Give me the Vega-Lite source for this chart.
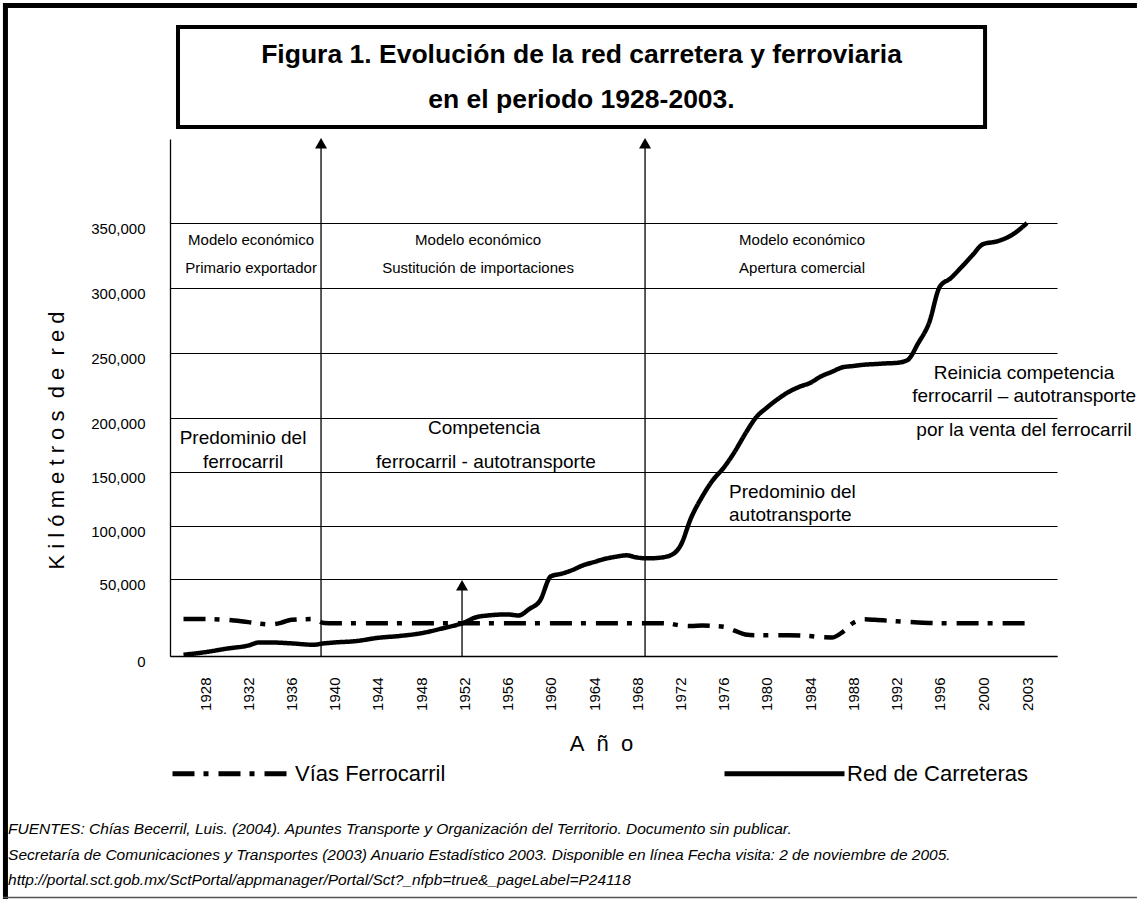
{
  "$schema": "https://vega.github.io/schema/vega-lite/v6.json",
  "width": 887,
  "height": 517,
  "padding": {"left": 0, "top": 0, "right": 0, "bottom": 0},
  "background": "white",
  "config": {"view": {"stroke": null}, "font": "Liberation Sans"},
  "layer": [
    {
      "data": {"values": [{}]},
      "mark": {"type": "rule", "color": "black", "strokeWidth": 5},
      "encoding": {"x": {"datum": 1909.52, "type": "quantitative"}, "y": {"datum": 520237, "type": "quantitative"}, "y2": {"datum": -157792}}
    },
    {
      "data": {"values": [{}]},
      "mark": {"type": "rule", "color": "black", "strokeWidth": 5},
      "encoding": {"x": {"datum": 1909.29, "type": "quantitative"}, "x2": {"datum": 2010.33}, "y": {"datum": 518304, "type": "quantitative"}}
    },
    {
      "data": {"values": [{}]},
      "mark": {"type": "rule", "color": "#555555", "strokeWidth": 1.5},
      "encoding": {"x": {"datum": 1909.29, "type": "quantitative"}, "x2": {"datum": 2010.33}, "y": {"datum": -156818, "type": "quantitative"}}
    },
    {
      "data": {"values": [{}]},
      "mark": {"type": "rect", "fill": "white", "stroke": "black", "strokeWidth": 4},
      "encoding": {"x": {"datum": 1925.49, "type": "quantitative"}, "x2": {"datum": 2000.14}, "y": {"datum": 501667, "type": "quantitative"}, "y2": {"datum": 424286}}
    },
    {
      "data": {"values": [
        {"year": 1962.84, "km": 480000, "label": "Figura 1. Evolución de la red carretera y ferroviaria"},
        {"year": 1962.84, "km": 445178, "label": "en el periodo 1928-2003."}
      ]},
      "mark": {"type": "text", "fontSize": 26.5, "fontWeight": "bold", "font": "Liberation Sans", "color": "black", "align": "center", "baseline": "middle"},
      "encoding": {"x": {"field": "year", "type": "quantitative"}, "y": {"field": "km", "type": "quantitative"}, "text": {"field": "label"}}
    },
    {
      "data": {"values": [
        {"year": 1938.73, "km": 411750},
        {"year": 1951.78, "km": 45974},
        {"year": 1968.72, "km": 411750}
      ]},
      "layer": [
        {
          "mark": {"type": "rule", "color": "black", "strokeWidth": 1.3},
          "encoding": {"x": {"field": "year", "type": "quantitative"}, "y": {"field": "km", "type": "quantitative"}, "y2": {"datum": 0}}
        },
        {
          "mark": {"type": "point", "shape": "triangle-up", "filled": true, "color": "black", "opacity": 1, "size": 144},
          "encoding": {"x": {"field": "year", "type": "quantitative"}, "y": {"field": "km", "type": "quantitative"}}
        }
      ]
    },
    {
      "data": {"values": [
        {"serie": "Red de Carreteras", "year": 1926, "km": 800},
        {"serie": "Red de Carreteras", "year": 1928, "km": 2500},
        {"serie": "Red de Carreteras", "year": 1930, "km": 4800},
        {"serie": "Red de Carreteras", "year": 1932, "km": 6800},
        {"serie": "Red de Carreteras", "year": 1933, "km": 8800},
        {"serie": "Red de Carreteras", "year": 1934, "km": 8800},
        {"serie": "Red de Carreteras", "year": 1936, "km": 8200},
        {"serie": "Red de Carreteras", "year": 1938, "km": 7300},
        {"serie": "Red de Carreteras", "year": 1939, "km": 8200},
        {"serie": "Red de Carreteras", "year": 1940, "km": 8800},
        {"serie": "Red de Carreteras", "year": 1942, "km": 9700},
        {"serie": "Red de Carreteras", "year": 1944, "km": 11800},
        {"serie": "Red de Carreteras", "year": 1946, "km": 13000},
        {"serie": "Red de Carreteras", "year": 1948, "km": 14800},
        {"serie": "Red de Carreteras", "year": 1950, "km": 18000},
        {"serie": "Red de Carreteras", "year": 1952, "km": 21800},
        {"serie": "Red de Carreteras", "year": 1953, "km": 25000},
        {"serie": "Red de Carreteras", "year": 1954, "km": 26200},
        {"serie": "Red de Carreteras", "year": 1956, "km": 27000},
        {"serie": "Red de Carreteras", "year": 1957, "km": 26300},
        {"serie": "Red de Carreteras", "year": 1958, "km": 30500},
        {"serie": "Red de Carreteras", "year": 1959, "km": 36000},
        {"serie": "Red de Carreteras", "year": 1960, "km": 52500},
        {"serie": "Red de Carreteras", "year": 1961, "km": 55000},
        {"serie": "Red de Carreteras", "year": 1962, "km": 58500},
        {"serie": "Red de Carreteras", "year": 1963, "km": 63000},
        {"serie": "Red de Carreteras", "year": 1964, "km": 66000},
        {"serie": "Red de Carreteras", "year": 1965, "km": 69000},
        {"serie": "Red de Carreteras", "year": 1966, "km": 71000},
        {"serie": "Red de Carreteras", "year": 1967, "km": 72300},
        {"serie": "Red de Carreteras", "year": 1968, "km": 70200},
        {"serie": "Red de Carreteras", "year": 1969, "km": 69500},
        {"serie": "Red de Carreteras", "year": 1970, "km": 70000},
        {"serie": "Red de Carreteras", "year": 1971, "km": 72000},
        {"serie": "Red de Carreteras", "year": 1972, "km": 81500},
        {"serie": "Red de Carreteras", "year": 1973, "km": 108000},
        {"serie": "Red de Carreteras", "year": 1974, "km": 127000},
        {"serie": "Red de Carreteras", "year": 1975, "km": 142500},
        {"serie": "Red de Carreteras", "year": 1976, "km": 154000},
        {"serie": "Red de Carreteras", "year": 1977, "km": 168500},
        {"serie": "Red de Carreteras", "year": 1978, "km": 185500},
        {"serie": "Red de Carreteras", "year": 1979, "km": 200500},
        {"serie": "Red de Carreteras", "year": 1980, "km": 208000},
        {"serie": "Red de Carreteras", "year": 1981, "km": 214500},
        {"serie": "Red de Carreteras", "year": 1982, "km": 220000},
        {"serie": "Red de Carreteras", "year": 1983, "km": 224000},
        {"serie": "Red de Carreteras", "year": 1984, "km": 227000},
        {"serie": "Red de Carreteras", "year": 1985, "km": 232000},
        {"serie": "Red de Carreteras", "year": 1986, "km": 235500},
        {"serie": "Red de Carreteras", "year": 1987, "km": 239000},
        {"serie": "Red de Carreteras", "year": 1988, "km": 240000},
        {"serie": "Red de Carreteras", "year": 1989, "km": 241000},
        {"serie": "Red de Carreteras", "year": 1990, "km": 241500},
        {"serie": "Red de Carreteras", "year": 1991, "km": 242000},
        {"serie": "Red de Carreteras", "year": 1992, "km": 242400},
        {"serie": "Red de Carreteras", "year": 1993, "km": 244500},
        {"serie": "Red de Carreteras", "year": 1994, "km": 257500},
        {"serie": "Red de Carreteras", "year": 1995, "km": 273000},
        {"serie": "Red de Carreteras", "year": 1996, "km": 301000},
        {"serie": "Red de Carreteras", "year": 1997, "km": 307500},
        {"serie": "Red de Carreteras", "year": 1998, "km": 316000},
        {"serie": "Red de Carreteras", "year": 1999, "km": 325000},
        {"serie": "Red de Carreteras", "year": 2000, "km": 333700},
        {"serie": "Red de Carreteras", "year": 2001, "km": 336000},
        {"serie": "Red de Carreteras", "year": 2002, "km": 341000},
        {"serie": "Red de Carreteras", "year": 2003, "km": 350000},
        {"serie": "Vías Ferrocarril", "year": 1926, "km": 24000},
        {"serie": "Vías Ferrocarril", "year": 1928, "km": 24000},
        {"serie": "Vías Ferrocarril", "year": 1930, "km": 23500},
        {"serie": "Vías Ferrocarril", "year": 1932, "km": 22000},
        {"serie": "Vías Ferrocarril", "year": 1934, "km": 20500},
        {"serie": "Vías Ferrocarril", "year": 1935, "km": 21500},
        {"serie": "Vías Ferrocarril", "year": 1936, "km": 23500},
        {"serie": "Vías Ferrocarril", "year": 1938, "km": 24000},
        {"serie": "Vías Ferrocarril", "year": 1939, "km": 21500},
        {"serie": "Vías Ferrocarril", "year": 1940, "km": 21300},
        {"serie": "Vías Ferrocarril", "year": 1944, "km": 21300},
        {"serie": "Vías Ferrocarril", "year": 1948, "km": 21300},
        {"serie": "Vías Ferrocarril", "year": 1952, "km": 21300},
        {"serie": "Vías Ferrocarril", "year": 1956, "km": 21300},
        {"serie": "Vías Ferrocarril", "year": 1960, "km": 21300},
        {"serie": "Vías Ferrocarril", "year": 1964, "km": 21300},
        {"serie": "Vías Ferrocarril", "year": 1968, "km": 21300},
        {"serie": "Vías Ferrocarril", "year": 1970, "km": 21300},
        {"serie": "Vías Ferrocarril", "year": 1971, "km": 21000},
        {"serie": "Vías Ferrocarril", "year": 1972, "km": 19800},
        {"serie": "Vías Ferrocarril", "year": 1973, "km": 19500},
        {"serie": "Vías Ferrocarril", "year": 1974, "km": 19800},
        {"serie": "Vías Ferrocarril", "year": 1975, "km": 19500},
        {"serie": "Vías Ferrocarril", "year": 1976, "km": 19000},
        {"serie": "Vías Ferrocarril", "year": 1977, "km": 16500},
        {"serie": "Vías Ferrocarril", "year": 1978, "km": 14000},
        {"serie": "Vías Ferrocarril", "year": 1979, "km": 13500},
        {"serie": "Vías Ferrocarril", "year": 1980, "km": 13500},
        {"serie": "Vías Ferrocarril", "year": 1982, "km": 13500},
        {"serie": "Vías Ferrocarril", "year": 1984, "km": 13000},
        {"serie": "Vías Ferrocarril", "year": 1985, "km": 12200},
        {"serie": "Vías Ferrocarril", "year": 1986, "km": 12000},
        {"serie": "Vías Ferrocarril", "year": 1987, "km": 15500},
        {"serie": "Vías Ferrocarril", "year": 1988, "km": 21500},
        {"serie": "Vías Ferrocarril", "year": 1989, "km": 23800},
        {"serie": "Vías Ferrocarril", "year": 1990, "km": 23500},
        {"serie": "Vías Ferrocarril", "year": 1992, "km": 22500},
        {"serie": "Vías Ferrocarril", "year": 1994, "km": 21800},
        {"serie": "Vías Ferrocarril", "year": 1996, "km": 21300},
        {"serie": "Vías Ferrocarril", "year": 2000, "km": 21200},
        {"serie": "Vías Ferrocarril", "year": 2003, "km": 21200}
      ]},
      "mark": {"type": "line", "interpolate": "monotone", "strokeWidth": 4.5, "color": "black"},
      "encoding": {
        "x": {
          "field": "year",
          "type": "quantitative",
          "scale": {"domain": [1924.75, 2000, 2003, 2005], "range": [0, 813, 857, 887], "nice": false, "zero": false},
          "axis": {
            "values": [1928, 1932, 1936, 1940, 1944, 1948, 1952, 1956, 1960, 1964, 1968, 1972, 1976, 1980, 1984, 1988, 1992, 1996, 2000, 2003],
            "labelExpr": "format(datum.value, 'd')",
            "labelAngle": 270,
            "labelAlign": "right",
            "labelBaseline": "middle",
            "labelPadding": 21,
            "ticks": false,
            "tickSize": 0,
            "grid": false,
            "domainColor": "black",
            "domainWidth": 1.3,
            "labelFontSize": 15,
            "labelColor": "black",
            "labelFont": "Liberation Sans",
            "labelOverlap": false,
            "labelFlush": false,
            "title": "A\u00a0 ñ\u00a0 o",
            "titleFontSize": 22,
            "titleFontWeight": "normal",
            "titleColor": "black",
            "titleFont": "Liberation Sans",
            "titleX": 431,
            "titleY": 87,
            "titleBaseline": "middle",
            "titleAlign": "center"
          }
        },
        "y": {
          "field": "km",
          "type": "quantitative",
          "scale": {"domain": [0, 50000, 100000, 150000, 200000, 250000, 300000, 350000, 415000], "range": [517, 440, 387, 333, 279, 214, 149, 84, 0], "nice": false, "zero": false},
          "axis": {
            "values": [0, 50000, 100000, 150000, 200000, 250000, 300000, 350000],
            "labelExpr": "format(datum.value, ',')",
            "labelFontSize": 15,
            "labelColor": "black",
            "labelFont": "Liberation Sans",
            "labelPadding": 25,
            "labelOffset": 5,
            "labelBaseline": "middle",
            "labelOverlap": false,
            "ticks": false,
            "tickSize": 0,
            "grid": true,
            "gridColor": "black",
            "gridWidth": 1,
            "gridOpacity": 1,
            "domainColor": "black",
            "domainWidth": 1.3,
            "title": "K i l ó m e t r o s\u00a0 d e\u00a0 r e d",
            "titleFontSize": 22,
            "titleFontWeight": "normal",
            "titleColor": "black",
            "titleFont": "Liberation Sans",
            "titleAngle": 270,
            "titleX": -114,
            "titleY": 301,
            "titleAlign": "center",
            "titleBaseline": "middle"
          }
        },
        "strokeDash": {
          "field": "serie",
          "type": "nominal",
          "scale": {"domain": ["Vías Ferrocarril", "Red de Carreteras"], "range": [[22, 9, 5, 10], [1, 0]]},
          "legend": {
            "orient": "none",
            "legendX": 0,
            "legendY": 572,
            "direction": "horizontal",
            "title": null,
            "symbolType": "stroke",
            "symbolSize": 14400,
            "symbolStrokeWidth": 5,
            "symbolStrokeColor": "black",
            "labelFontSize": 22,
            "labelFont": "Liberation Sans",
            "labelColor": "black",
            "labelOffset": 0,
            "labelLimit": 400,
            "columnPadding": 268,
            "padding": 0
          }
        }
      }
    },
    {
      "data": {"values": [
        {"year": 1932.25, "km": 336923, "label": "Modelo económico"},
        {"year": 1932.25, "km": 315385, "label": "Primario exportador"},
        {"year": 1953.26, "km": 336923, "label": "Modelo económico"},
        {"year": 1953.26, "km": 315385, "label": "Sustitución de importaciones"},
        {"year": 1983.25, "km": 336923, "label": "Modelo económico"},
        {"year": 1983.25, "km": 315385, "label": "Apertura comercial"}
      ]},
      "mark": {"type": "text", "fontSize": 15, "font": "Liberation Sans", "color": "black", "align": "center", "baseline": "middle"},
      "encoding": {"x": {"field": "year", "type": "quantitative"}, "y": {"field": "km", "type": "quantitative"}, "text": {"field": "label"}}
    },
    {
      "data": {"values": [
        {"year": 1931.51, "km": 181481, "label": "Predominio del"},
        {"year": 1931.51, "km": 159259, "label": "ferrocarril"},
        {"year": 1953.81, "km": 190741, "label": "Competencia"},
        {"year": 1953.99, "km": 159259, "label": "ferrocarril - autotransporte"},
        {"year": 2002.8, "km": 234615, "label": "Reinicia competencia"},
        {"year": 2002.8, "km": 216923, "label": "ferrocarril – autotransporte"},
        {"year": 2002.8, "km": 188889, "label": "por la venta del ferrocarril"}
      ]},
      "mark": {"type": "text", "fontSize": 19, "font": "Liberation Sans", "color": "black", "align": "center", "baseline": "middle"},
      "encoding": {"x": {"field": "year", "type": "quantitative"}, "y": {"field": "km", "type": "quantitative"}, "text": {"field": "label"}}
    },
    {
      "data": {"values": [
        {"year": 1976.49, "km": 131481, "label": "Predominio del"},
        {"year": 1976.49, "km": 110185, "label": "autotransporte"}
      ]},
      "mark": {"type": "text", "fontSize": 19, "font": "Liberation Sans", "color": "black", "align": "left", "baseline": "middle"},
      "encoding": {"x": {"field": "year", "type": "quantitative"}, "y": {"field": "km", "type": "quantitative"}, "text": {"field": "label"}}
    },
    {
      "data": {"values": [
        {"year": 1909.76, "km": -112338, "label": "FUENTES: Chías Becerril, Luis. (2004). Apuntes Transporte y Organización del Territorio. Documento sin publicar."},
        {"year": 1909.76, "km": -129221, "label": "Secretaría de Comunicaciones y Transportes (2003) Anuario Estadístico 2003. Disponible en línea Fecha visita: 2 de noviembre de 2005."},
        {"year": 1909.76, "km": -145454, "label": "http://portal.sct.gob.mx/SctPortal/appmanager/Portal/Sct?_nfpb=true&_pageLabel=P24118"}
      ]},
      "mark": {"type": "text", "fontSize": 15.5, "fontStyle": "italic", "font": "Liberation Sans", "color": "black", "align": "left", "baseline": "middle"},
      "encoding": {"x": {"field": "year", "type": "quantitative"}, "y": {"field": "km", "type": "quantitative"}, "text": {"field": "label"}}
    }
  ]
}
